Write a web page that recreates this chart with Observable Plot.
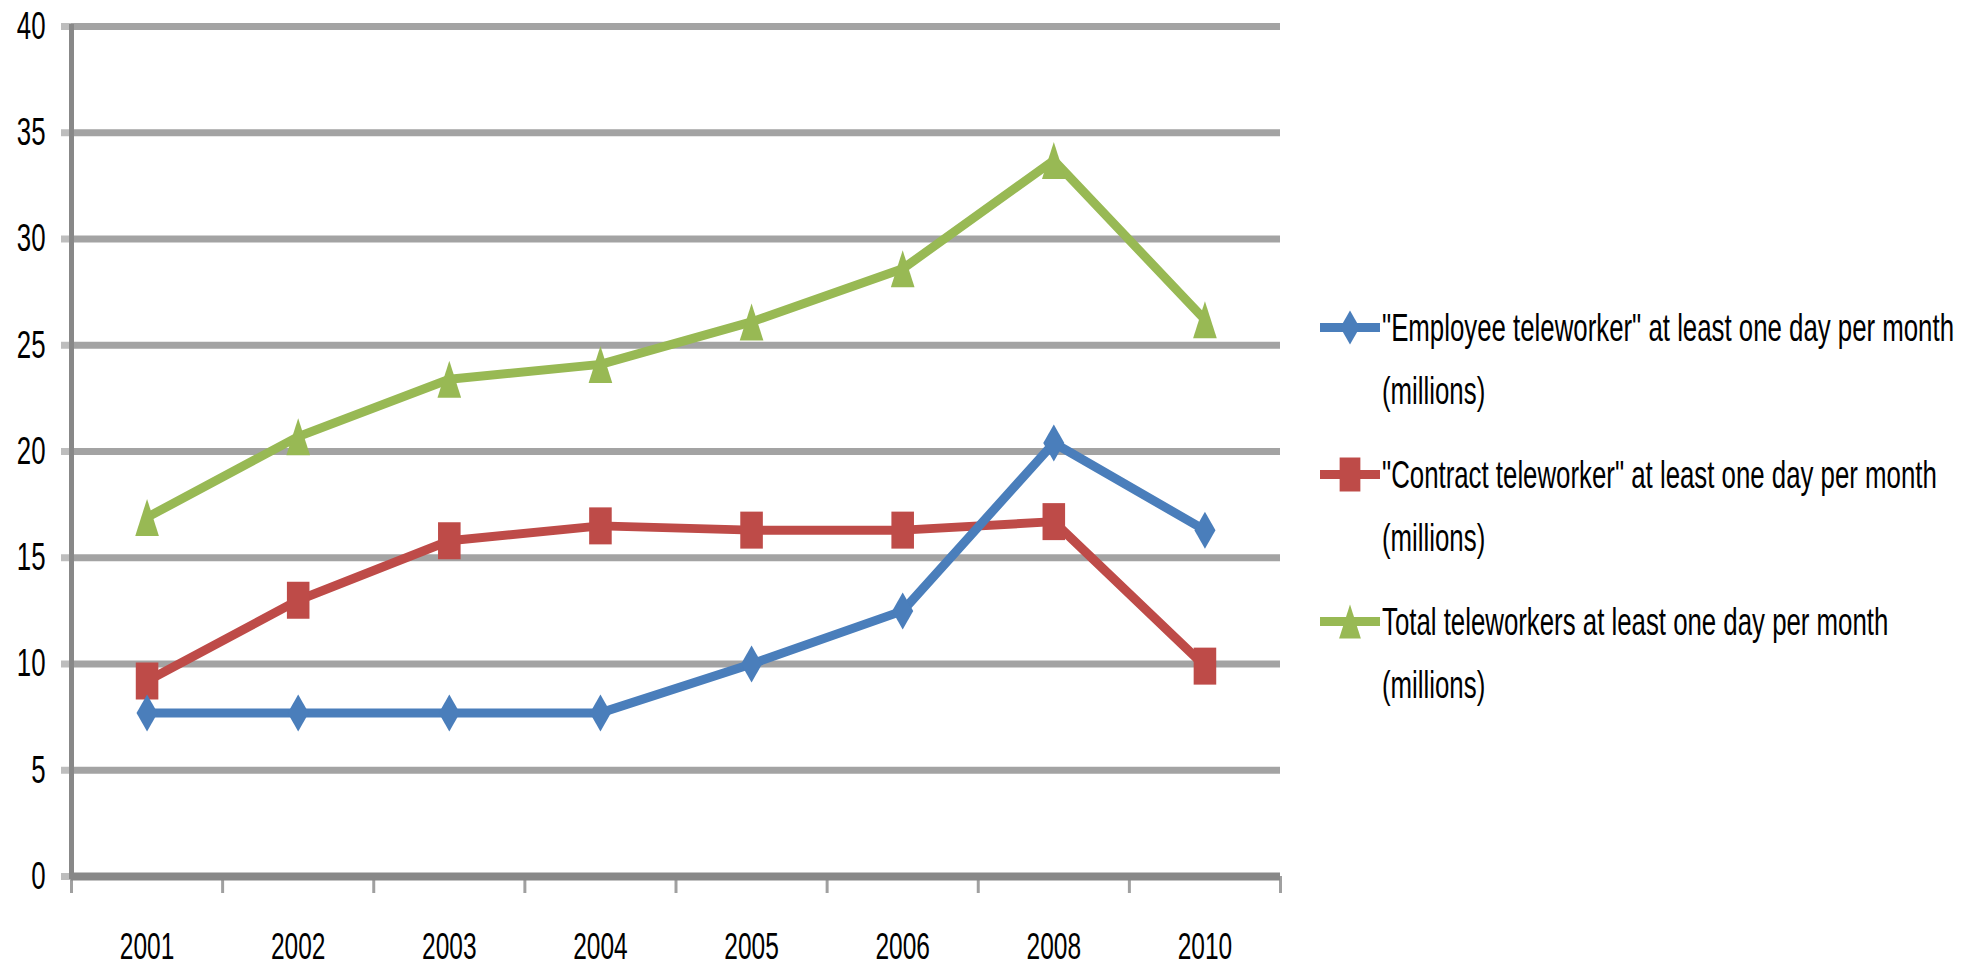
<!DOCTYPE html>
<html><head><meta charset="utf-8">
<script src="https://cdn.jsdelivr.net/npm/d3@7"></script>
<script src="https://cdn.jsdelivr.net/npm/@observablehq/plot@0.6"></script>
<style>
html,body{margin:0;padding:0;background:#fff;}
#root{position:relative;width:1976px;height:968px;overflow:hidden;font-family:"Liberation Sans",Arial,sans-serif;}
#legend{position:absolute;left:1320px;top:296px;}
.entry{display:flex;align-items:flex-start;height:126px;margin-bottom:21px;}
.entry svg{flex:none;width:62px;height:63px;display:block;}
.line{height:63px;line-height:63px;font-size:39px;color:#000;white-space:nowrap;}
.line span{display:inline-block;transform-origin:0 50%;}
</style></head><body><div id="root"></div>
<script>
// ---- data ----
const years = ["2001", "2002", "2003", "2004", "2005", "2006", "2008", "2010"];
const employee = [7.7, 7.7, 7.7, 7.7, 10.0, 12.5, 20.4, 16.3];
const contract = [9.2, 13.0, 15.8, 16.5, 16.3, 16.3, 16.7, 9.9];
const total = [16.9, 20.7, 23.4, 24.1, 26.1, 28.6, 33.7, 26.2];
const seriesNames = [
  ["\"Employee teleworker\" at least one day per month", "(millions)"],
  ["\"Contract teleworker\" at least one day per month", "(millions)"],
  ["Total teleworkers at least one day per month", "(millions)"]
];
const yTicks = [0, 5, 10, 15, 20, 25, 30, 35, 40];

const colors = ["#4a7ebb", "#be4b48", "#98b954"];

// custom tall markers
function rOf(size) { return Math.sqrt(size / Math.PI); }
const diamond = {draw(ctx, size) { const r = rOf(size), w = r * 0.57; ctx.moveTo(0, -r); ctx.lineTo(w, 0); ctx.lineTo(0, r); ctx.lineTo(-w, 0); ctx.closePath(); }};
const square = {draw(ctx, size) { const r = rOf(size), w = r * 0.61; ctx.rect(-w, -r, 2 * w, 2 * r); }};
const triangle = {draw(ctx, size) { const r = rOf(size), w = r * 0.64; ctx.moveTo(0, -r); ctx.lineTo(w, r); ctx.lineTo(-w, r); ctx.closePath(); }};
const symbols = [diamond, square, triangle];
const seriesData = [employee, contract, total];

const idx = years.map((_, i) => i);
const bounds = d3.range(-0.5, years.length, 1);

function seriesMarks(s) {
  const arr = seriesData[s];
  return [
    Plot.line(idx, {x: i => i, y: i => arr[i], stroke: colors[s], strokeWidth: 9, strokeLinejoin: "round"}),
    Plot.dot(idx, {x: i => i, y: i => arr[i], fill: colors[s], stroke: "none", symbol: symbols[s], r: 18.5})
  ];
}

const chart = Plot.plot({
  width: 1976, height: 968,
  marginLeft: 71, marginRight: 696, marginTop: 26, marginBottom: 92,
  style: {fontFamily: "'Liberation Sans', Arial, sans-serif", fontSize: "39px", color: "#000", background: "#fff"},
  x: {domain: [-0.5, years.length - 0.5], label: null},
  y: {domain: [0, 40], label: null},
  marks: [
    Plot.gridY(yTicks, {stroke: "#a3a3a3", strokeOpacity: 1, strokeWidth: 7}),
    Plot.axisY(yTicks, {tickSize: 10, tickPadding: 16, stroke: "#bdbdbd", strokeWidth: 7, fontSize: 39, label: null}),
    Plot.axisX(bounds, {tickSize: 17, text: null, stroke: "#a0a0a0", strokeWidth: 3, label: null}),
    Plot.axisX(idx, {tickSize: 0, tickPadding: 56, tickFormat: i => years[i], fontSize: 37, label: null}),
    Plot.ruleY([0], {stroke: "#888", strokeWidth: 8}),
    Plot.frame({anchor: "left", stroke: "#888", strokeWidth: 5}),
    ...seriesMarks(1),
    ...seriesMarks(0),
    ...seriesMarks(2)
  ]
});
const root = document.getElementById("root");
root.appendChild(chart);

// ---- legend ----
const legend = document.createElement("div");
legend.id = "legend";
root.appendChild(legend);
const spans = [];
seriesNames.forEach((lines, s) => {
  const entry = document.createElement("div");
  entry.className = "entry";
  const svg = d3.create("svg").attr("width", 62).attr("height", 63);
  svg.append("line").attr("x1", 0).attr("x2", 60).attr("y1", 31.5).attr("y2", 31.5)
    .attr("stroke", colors[s]).attr("stroke-width", 9);
  const p = d3.path();
  symbols[s].draw(p, Math.PI * 17 * 17);
  svg.append("path").attr("d", p.toString()).attr("transform", "translate(30,31.5)").attr("fill", colors[s]);
  entry.appendChild(svg.node());
  const block = document.createElement("div");
  lines.forEach(t => {
    const ln = document.createElement("div");
    ln.className = "line";
    const sp = document.createElement("span");
    sp.textContent = t;
    ln.appendChild(sp);
    block.appendChild(ln);
    spans.push(sp);
  });
  entry.appendChild(block);
  legend.appendChild(entry);
});

// horizontal compression of text to match the condensed look
const natural = spans[0].getBoundingClientRect().width;
const k = 572 / natural;
spans.forEach(sp => { sp.style.transform = `scaleX(${k})`; });
chart.querySelectorAll("text").forEach(t => {
  const len = t.getComputedTextLength();
  if (len > 0) {
    t.setAttribute("textLength", (len * k).toFixed(2));
    t.setAttribute("lengthAdjust", "spacingAndGlyphs");
  }
});
</script></body></html>
